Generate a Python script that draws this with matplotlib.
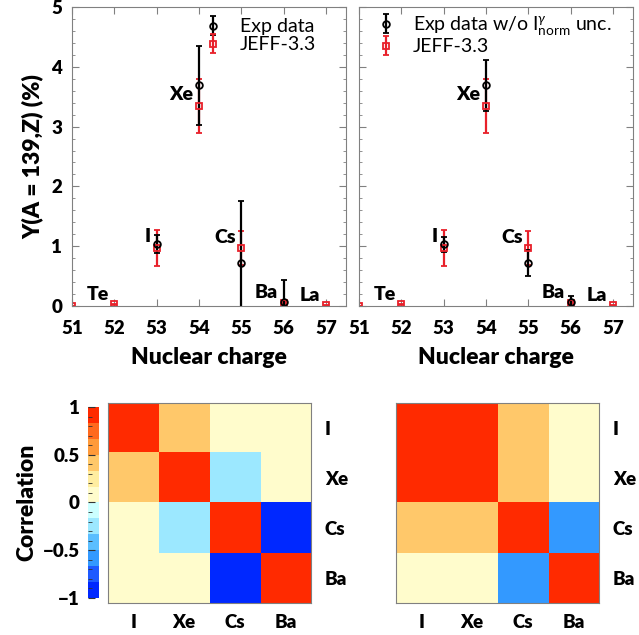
import numpy as np
import matplotlib
matplotlib.use('Agg')
import matplotlib.pyplot as plt
from matplotlib.colors import ListedColormap, BoundaryNorm
from matplotlib.ticker import MultipleLocator

plt.rcParams['font.family'] = ['Lato', 'DejaVu Sans']
plt.rcParams['mathtext.fontset'] = 'custom'
plt.rcParams['mathtext.rm'] = 'Lato'
plt.rcParams['mathtext.it'] = 'Lato:italic'

W = 'heavy'

# yields, A = 139
Z_exp = [53, 54, 55, 56]
y_exp = [1.03, 3.69, 0.72, 0.06]
err_exp = [0.15, 0.66, 1.04, 0.37]
err_exp_noI = [0.13, 0.43, 0.22, 0.11]

Z_jeff = [51, 52, 53, 54, 55, 56, 57]
y_jeff = [0.005, 0.03, 0.97, 3.35, 0.97, 0.05, 0.01]
err_jeff = [0.003, 0.01, 0.30, 0.45, 0.29, 0.02, 0.006]

elements = ['Te', 'I', 'Xe', 'Cs', 'Ba', 'La']
el_x = [51.88, 52.87, 53.86, 54.87, 55.86, 56.86]
el_y = [0.20, 1.17, 3.53, 1.15, 0.22, 0.17]

# correlation matrices
corr_names = ['I', 'Xe', 'Cs', 'Ba']
corr_left = [[1.0, 0.40, 0.05, 0.05],
             [0.40, 1.0, -0.25, 0.05],
             [0.05, -0.25, 1.0, -0.90],
             [0.05, 0.05, -0.90, 1.0]]
corr_right = [[1.0, 0.95, 0.40, 0.05],
              [0.95, 1.0, 0.40, 0.05],
              [0.40, 0.40, 1.0, -0.60],
              [0.05, 0.05, -0.60, 1.0]]

band_colors = ['#0028FF', '#1E5AFF', '#3399FF', '#5ABEFF', '#9CE8FF', '#CCFFFF',
               '#FFFCCC', '#FFEDA0', '#FFC86A', '#FF9A3A', '#FF6A1E', '#FF2A00']

frame_col = '#808080'

fig = plt.figure(figsize=(6.39, 6.35), dpi=100)


def yield_panel(ax, err_e, show_ylabel):
    h_j = ax.errorbar(Z_jeff, y_jeff, yerr=err_jeff, fmt='s', color='#E8202A', mfc='none',
                      ms=4.8, mew=1.3, elinewidth=1.6, capsize=2.3, capthick=1.6)
    h_e = ax.errorbar(Z_exp, y_exp, yerr=err_e, fmt='o', color='black', mfc='none',
                      ms=4.8, mew=1.3, elinewidth=1.6, capsize=2.3, capthick=1.6)
    for n, x, y in zip(elements, el_x, el_y):
        ax.text(x, y, n, ha='right', va='center', fontsize=14, fontweight=W)
    ax.set_xlim(51, 57.47)
    ax.set_ylim(0, 5)
    ax.set_xticks(range(51, 58))
    ax.yaxis.set_major_locator(MultipleLocator(1))
    ax.yaxis.set_minor_locator(MultipleLocator(0.2))
    ax.tick_params(which='both', direction='in', top=True, right=True, color=frame_col,
                   labelsize=13.5)
    ax.tick_params(which='major', length=5)
    ax.tick_params(which='minor', length=2.5)
    ax.tick_params(axis='x', pad=10)
    ax.tick_params(axis='y', pad=7, labelleft=show_ylabel)
    for lab in ax.get_xticklabels() + ax.get_yticklabels():
        lab.set_fontweight(W)
    for s in ax.spines.values():
        s.set_color(frame_col)
    ax.set_xlabel('Nuclear charge', fontsize=16.5, fontweight=W, labelpad=7)
    if show_ylabel:
        ax.set_ylabel('Y(A = 139,Z) (%)', fontsize=16.5, fontweight=W, labelpad=6)
    return h_e, h_j


ax1 = fig.add_axes([0.1127, 0.5181, 0.4288, 0.4709])
h_e, h_j = yield_panel(ax1, err_exp, True)
ax1.legend([h_e, h_j], ['Exp data', 'JEFF-3.3'], loc='upper left', bbox_to_anchor=(0.478, 0.962),
           frameon=False, fontsize=14, handlelength=1.0, handletextpad=0.9,
           borderpad=0, borderaxespad=0, labelspacing=0.05)

ax2 = fig.add_axes([0.5618, 0.5181, 0.4288, 0.4709])
h_e, h_j = yield_panel(ax2, err_exp_noI, False)
ax2.legend([h_e, h_j], [r'Exp data w/o I$_{\mathrm{norm}}^{\gamma}$ unc.', 'JEFF-3.3'],
           loc='upper left', bbox_to_anchor=(0.062, 0.975),
           frameon=False, fontsize=14, handlelength=1.0, handletextpad=0.9,
           borderpad=0, borderaxespad=0, labelspacing=0.05)

cmap = ListedColormap(band_colors)
norm = BoundaryNorm(np.linspace(-1, 1, 13), cmap.N)


def corr_panel(ax, mat):
    m = ax.imshow(np.array(mat), cmap=cmap, norm=norm, aspect='auto')
    ax.set_xticks(range(4))
    ax.set_xticklabels(corr_names)
    ax.set_yticks(range(4))
    ax.set_yticklabels(corr_names)
    ax.yaxis.tick_right()
    ax.tick_params(length=0, labelsize=13.5)
    ax.tick_params(axis='y', pad=10)
    ax.tick_params(axis='x', pad=8)
    for lab in ax.get_xticklabels() + ax.get_yticklabels():
        lab.set_fontweight(W)
    for s in ax.spines.values():
        s.set_color(frame_col)
    return m


ax3 = fig.add_axes([0.169, 0.0504, 0.3177, 0.315])
m = corr_panel(ax3, corr_left)
ax4 = fig.add_axes([0.6197, 0.0504, 0.3177, 0.315])
corr_panel(ax4, corr_right)

cax = fig.add_axes([0.1377, 0.0583, 0.0172, 0.3008])
cb = fig.colorbar(m, cax=cax, ticks=[-1, -0.5, 0, 0.5, 1], ticklocation='left')
cb.outline.set_visible(False)
cb.ax.yaxis.set_minor_locator(MultipleLocator(0.1))
cb.ax.tick_params(which='both', direction='in', color='#333333', labelsize=13.5, pad=6)
cb.ax.tick_params(which='major', length=5)
cb.ax.tick_params(which='minor', length=3)
cb.ax.set_yticklabels(['\u22121', '\u22120.5', '0', '0.5', '1'])
for lab in cb.ax.get_yticklabels():
    lab.set_fontweight(W)
cb.set_label('Correlation', fontsize=16.5, fontweight=W, labelpad=4)

plt.savefig('out.png', dpi=100)
